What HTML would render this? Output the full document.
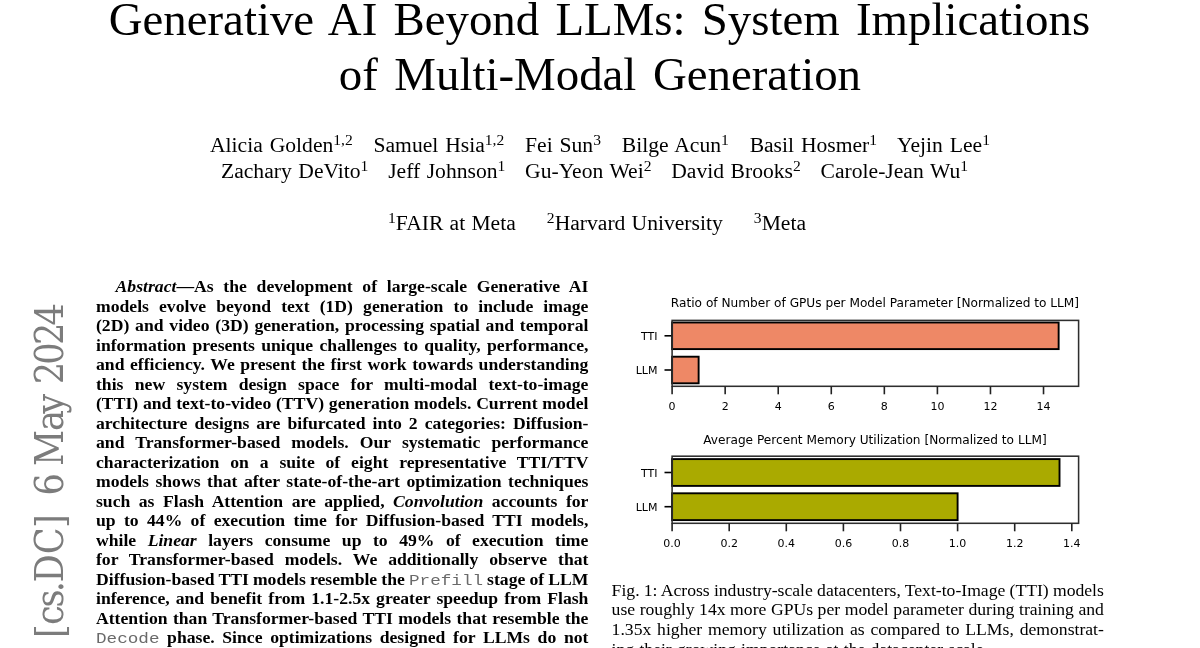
<!DOCTYPE html>
<html lang="en"><head><meta charset="utf-8"><title>Generative AI Beyond LLMs</title>
<style>
html,body{margin:0;padding:0;background:#fff;}
body{width:1200px;height:648px;position:relative;overflow:hidden;font-family:"Liberation Serif",serif;color:#000;}
.ln{position:absolute;white-space:pre;}
.abs{font-weight:bold;}
.abs tt{font-family:"Liberation Mono",monospace;font-weight:normal;color:#6a6a6a;font-size:0.86em;display:inline-block;transform:scaleX(1.163);transform-origin:0 50%;}
sup{font-size:0.72em;vertical-align:baseline;position:relative;top:-0.46em;line-height:0;}
.stamp{font-family:"DejaVu Serif Condensed","DejaVu Serif",serif;font-kerning:none;}
svg text{font-family:"DejaVu Sans",sans-serif;}
</style></head><body>
<div class="ln title" id="L1" style="left:108.70px;top:-9.00px;font-size:46.85px;line-height:56px;word-spacing:4.531px;">Generative AI Beyond LLMs: System Implications</div>
<div class="ln title" id="L2" style="left:338.80px;top:46.00px;font-size:46.85px;line-height:56px;word-spacing:4.819px;">of Multi-Modal Generation</div>
<div class="ln auth" id="L3" style="left:210.00px;top:132.00px;font-size:21.6px;line-height:26px;word-spacing:1.534px;">Alicia Golden<sup>1,2</sup>   Samuel Hsia<sup>1,2</sup>   Fei Sun<sup>3</sup>   Bilge Acun<sup>1</sup>   Basil Hosmer<sup>1</sup>   Yejin Lee<sup>1</sup></div>
<div class="ln auth" id="L4" style="left:221.00px;top:158.00px;font-size:21.6px;line-height:26px;word-spacing:1.192px;">Zachary DeVito<sup>1</sup>   Jeff Johnson<sup>1</sup>   Gu-Yeon Wei<sup>2</sup>   David Brooks<sup>2</sup>   Carole-Jean Wu<sup>1</sup></div>
<div class="ln aff" id="L5" style="left:388.00px;top:210.00px;font-size:21.6px;line-height:26px;word-spacing:0.819px;"><sup>1</sup>FAIR at Meta     <sup>2</sup>Harvard University     <sup>3</sup>Meta</div>
<div class="ln abs" id="L6" style="left:115.60px;top:276.00px;font-size:17.65px;line-height:21px;word-spacing:5.308px;"><i>Abstract</i>—As the development of large-scale Generative AI</div>
<div class="ln abs" id="L7" style="left:96.00px;top:296.00px;font-size:17.65px;line-height:21px;word-spacing:5.695px;">models evolve beyond text (1D) generation to include image</div>
<div class="ln abs" id="L8" style="left:96.00px;top:315.00px;font-size:17.65px;line-height:21px;word-spacing:1.378px;">(2D) and video (3D) generation, processing spatial and temporal</div>
<div class="ln abs" id="L9" style="left:96.00px;top:335.00px;font-size:17.65px;line-height:21px;word-spacing:1.921px;">information presents unique challenges to quality, performance,</div>
<div class="ln abs" id="L10" style="left:96.00px;top:354.00px;font-size:17.65px;line-height:21px;word-spacing:1.175px;">and efficiency. We present the first work towards understanding</div>
<div class="ln abs" id="L11" style="left:96.00px;top:374.00px;font-size:17.65px;line-height:21px;word-spacing:6.903px;">this new system design space for multi-modal text-to-image</div>
<div class="ln abs" id="L12" style="left:96.00px;top:393.00px;font-size:17.65px;line-height:21px;word-spacing:0.392px;">(TTI) and text-to-video (TTV) generation models. Current model</div>
<div class="ln abs" id="L13" style="left:96.00px;top:413.00px;font-size:17.65px;line-height:21px;word-spacing:2.566px;">architecture designs are bifurcated into 2 categories: Diffusion-</div>
<div class="ln abs" id="L14" style="left:96.00px;top:432.00px;font-size:17.65px;line-height:21px;word-spacing:6.692px;">and Transformer-based models. Our systematic performance</div>
<div class="ln abs" id="L15" style="left:96.00px;top:452.00px;font-size:17.65px;line-height:21px;word-spacing:6.437px;">characterization on a suite of eight representative TTI/TTV</div>
<div class="ln abs" id="L16" style="left:96.00px;top:471.00px;font-size:17.65px;line-height:21px;word-spacing:2.093px;">models shows that after state-of-the-art optimization techniques</div>
<div class="ln abs" id="L17" style="left:96.00px;top:491.00px;font-size:17.65px;line-height:21px;word-spacing:4.066px;">such as Flash Attention are applied, <i>Convolution</i> accounts for</div>
<div class="ln abs" id="L18" style="left:96.00px;top:510.00px;font-size:17.65px;line-height:21px;word-spacing:3.928px;">up to 44% of execution time for Diffusion-based TTI models,</div>
<div class="ln abs" id="L19" style="left:96.00px;top:530.00px;font-size:17.65px;line-height:21px;word-spacing:7.072px;">while <i>Linear</i> layers consume up to 49% of execution time</div>
<div class="ln abs" id="L20" style="left:96.00px;top:549.00px;font-size:17.65px;line-height:21px;word-spacing:6.522px;">for Transformer-based models. We additionally observe that</div>
<div class="ln abs" id="L21" style="left:96.00px;top:569.00px;font-size:17.65px;line-height:21px;word-spacing:-0.305px;">Diffusion-based TTI models resemble the <tt style="margin-right:10.4px">Prefill</tt> stage of LLM</div>
<div class="ln abs" id="L22" style="left:96.00px;top:588.00px;font-size:17.65px;line-height:21px;word-spacing:1.671px;">inference, and benefit from 1.1-2.5x greater speedup from Flash</div>
<div class="ln abs" id="L23" style="left:96.00px;top:608.00px;font-size:17.65px;line-height:21px;word-spacing:0.972px;">Attention than Transformer-based TTI models that resemble the</div>
<div class="ln abs" id="L24" style="left:96.00px;top:627.00px;font-size:17.65px;line-height:21px;word-spacing:3.239px;"><tt style="margin-right:8.9px">Decode</tt> phase. Since optimizations designed for LLMs do not</div>
<div class="ln cap" id="L25" style="left:611.60px;top:580.00px;font-size:17.65px;line-height:21px;word-spacing:-0.203px;">Fig. 1: Across industry-scale datacenters, Text-to-Image (TTI) models</div>
<div class="ln cap" id="L26" style="left:611.60px;top:599.00px;font-size:17.65px;line-height:21px;word-spacing:0.141px;">use roughly 14x more GPUs per model parameter during training and</div>
<div class="ln cap" id="L27" style="left:611.60px;top:619.00px;font-size:17.65px;line-height:21px;word-spacing:1.401px;">1.35x higher memory utilization as compared to LLMs, demonstrat-</div>
<div class="ln cap" id="L28" style="left:611.60px;top:639.00px;font-size:17.65px;line-height:21px;word-spacing:0.870px;">ing their growing importance at the datacenter scale.</div>
<svg width="1200" height="648" viewBox="0 0 1200 648" style="position:absolute;left:0;top:0"><text class="stamp" transform="translate(62.60 638.00) rotate(-90)" font-size="39.2" fill="#7c7c7c" dx="0 -0.71 -2.35 -2.83 -1.40 0.04 -0.84 -0.71 8.40 -2.83 -1.40 -1.26 -3.62 -0.33 -1.40 -2.83 -2.83 -2.83">[cs.DC] 6 May 2024</text></svg>
<svg width="1200" height="648" viewBox="0 0 1200 648" style="position:absolute;left:0;top:0" fill="#000">
<rect x="672.10" y="322.50" width="386.54" height="26.60" fill="#ee8866" stroke="#000" stroke-width="1.9"/>
<line x1="664.50" x2="672.10" y1="335.80" y2="335.80" stroke="#000" stroke-width="1.6"/>
<text x="657.40" y="339.90" font-size="11.0" text-anchor="end">TTI</text>
<rect x="672.10" y="356.70" width="26.53" height="26.60" fill="#ee8866" stroke="#000" stroke-width="1.9"/>
<line x1="664.50" x2="672.10" y1="370.00" y2="370.00" stroke="#000" stroke-width="1.6"/>
<text x="657.40" y="374.10" font-size="11.0" text-anchor="end">LLM</text>
<rect x="672.10" y="320.40" width="406.50" height="65.90" fill="none" stroke="#2e2e2e" stroke-width="1.55"/>
<line x1="672.10" x2="672.10" y1="386.30" y2="394.30" stroke="#222" stroke-width="1.6"/>
<text x="672.10" y="409.90" font-size="11.0" text-anchor="middle">0</text>
<line x1="725.16" x2="725.16" y1="386.30" y2="394.30" stroke="#222" stroke-width="1.6"/>
<text x="725.16" y="409.90" font-size="11.0" text-anchor="middle">2</text>
<line x1="778.22" x2="778.22" y1="386.30" y2="394.30" stroke="#222" stroke-width="1.6"/>
<text x="778.22" y="409.90" font-size="11.0" text-anchor="middle">4</text>
<line x1="831.28" x2="831.28" y1="386.30" y2="394.30" stroke="#222" stroke-width="1.6"/>
<text x="831.28" y="409.90" font-size="11.0" text-anchor="middle">6</text>
<line x1="884.34" x2="884.34" y1="386.30" y2="394.30" stroke="#222" stroke-width="1.6"/>
<text x="884.34" y="409.90" font-size="11.0" text-anchor="middle">8</text>
<line x1="937.40" x2="937.40" y1="386.30" y2="394.30" stroke="#222" stroke-width="1.6"/>
<text x="937.40" y="409.90" font-size="11.0" text-anchor="middle">10</text>
<line x1="990.46" x2="990.46" y1="386.30" y2="394.30" stroke="#222" stroke-width="1.6"/>
<text x="990.46" y="409.90" font-size="11.0" text-anchor="middle">12</text>
<line x1="1043.52" x2="1043.52" y1="386.30" y2="394.30" stroke="#222" stroke-width="1.6"/>
<text x="1043.52" y="409.90" font-size="11.0" text-anchor="middle">14</text>
<text x="874.95" y="307.10" font-size="12.15" text-anchor="middle">Ratio of Number of GPUs per Model Parameter [Normalized to LLM]</text>
<rect x="672.10" y="459.10" width="387.42" height="26.80" fill="#aaaa00" stroke="#000" stroke-width="1.9"/>
<line x1="664.50" x2="672.10" y1="472.50" y2="472.50" stroke="#000" stroke-width="1.6"/>
<text x="657.40" y="476.60" font-size="11.0" text-anchor="end">TTI</text>
<rect x="672.10" y="493.30" width="285.50" height="26.80" fill="#aaaa00" stroke="#000" stroke-width="1.9"/>
<line x1="664.50" x2="672.10" y1="506.70" y2="506.70" stroke="#000" stroke-width="1.6"/>
<text x="657.40" y="510.80" font-size="11.0" text-anchor="end">LLM</text>
<rect x="672.10" y="456.20" width="406.50" height="67.10" fill="none" stroke="#2e2e2e" stroke-width="1.55"/>
<line x1="672.10" x2="672.10" y1="523.30" y2="531.30" stroke="#222" stroke-width="1.6"/>
<text x="672.10" y="546.80" font-size="11.0" text-anchor="middle">0.0</text>
<line x1="729.20" x2="729.20" y1="523.30" y2="531.30" stroke="#222" stroke-width="1.6"/>
<text x="729.20" y="546.80" font-size="11.0" text-anchor="middle">0.2</text>
<line x1="786.30" x2="786.30" y1="523.30" y2="531.30" stroke="#222" stroke-width="1.6"/>
<text x="786.30" y="546.80" font-size="11.0" text-anchor="middle">0.4</text>
<line x1="843.40" x2="843.40" y1="523.30" y2="531.30" stroke="#222" stroke-width="1.6"/>
<text x="843.40" y="546.80" font-size="11.0" text-anchor="middle">0.6</text>
<line x1="900.50" x2="900.50" y1="523.30" y2="531.30" stroke="#222" stroke-width="1.6"/>
<text x="900.50" y="546.80" font-size="11.0" text-anchor="middle">0.8</text>
<line x1="957.60" x2="957.60" y1="523.30" y2="531.30" stroke="#222" stroke-width="1.6"/>
<text x="957.60" y="546.80" font-size="11.0" text-anchor="middle">1.0</text>
<line x1="1014.70" x2="1014.70" y1="523.30" y2="531.30" stroke="#222" stroke-width="1.6"/>
<text x="1014.70" y="546.80" font-size="11.0" text-anchor="middle">1.2</text>
<line x1="1071.80" x2="1071.80" y1="523.30" y2="531.30" stroke="#222" stroke-width="1.6"/>
<text x="1071.80" y="546.80" font-size="11.0" text-anchor="middle">1.4</text>
<text x="874.95" y="444.20" font-size="12.15" text-anchor="middle">Average Percent Memory Utilization [Normalized to LLM]</text>
</svg>
</body></html>
